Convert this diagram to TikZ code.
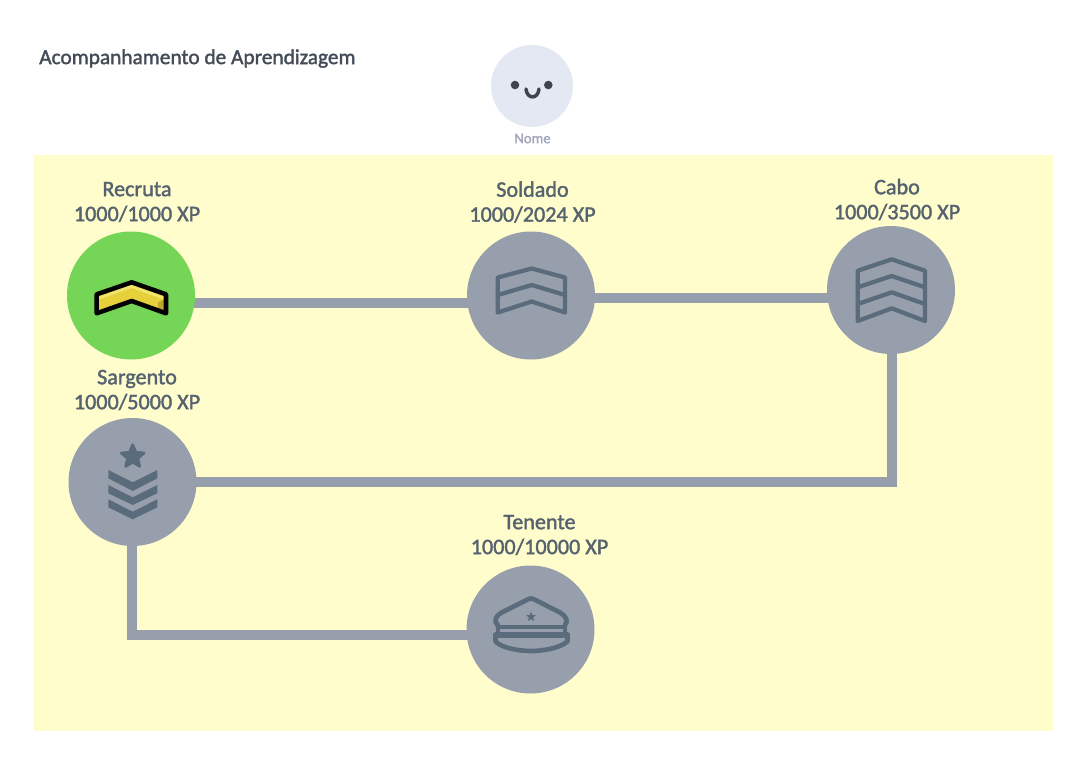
\documentclass[tikz,border=0pt]{standalone}
\usepackage{fontspec}
\setmainfont{Carlito}
\newfontfamily\heavyface[FakeBold=1.6]{Carlito}
\usetikzlibrary{backgrounds,calc}
\definecolor{paper}{HTML}{FFFDCC}
\definecolor{stonegrey}{HTML}{979FAD}
\definecolor{inkgrey}{HTML}{5A6B7C}
\definecolor{labelgrey}{HTML}{55626F}
\definecolor{titlegrey}{HTML}{434B57}
\definecolor{donegreen}{HTML}{75D556}
\definecolor{facebg}{HTML}{E4E8F2}
\definecolor{facename}{HTML}{A0A8BA}
\definecolor{faceink}{HTML}{3E4450}
\definecolor{goldA}{HTML}{E6D03C}
\definecolor{goldB}{HTML}{BFA62E}
\definecolor{goldC}{HTML}{F2E468}
\tikzset{
  x=0.75pt,y=-0.75pt,
  rank/.style={circle,fill=stonegrey,draw=none,minimum size=96pt,inner sep=0pt},
  ranklabel/.style={align=center,text=labelgrey,font=\heavyface\fontsize{16.6pt}{18.7pt}\selectfont,inner sep=0pt},
  link/.style={draw=stonegrey,line width=7.5pt,line join=miter,line cap=butt},
  icon/.style={draw=inkgrey,line width=3.2pt,line join=round,line cap=round},
}
\begin{document}
\begin{tikzpicture}
\useasboundingbox (0,0) rectangle (1079,765);
\begin{pgfonlayer}{background}
\fill[white] (0,0) rectangle (1079,765);
\fill[paper] (34,155) rectangle (1053,731);
\end{pgfonlayer}

% title and face
\node[anchor=west,inner sep=0pt,text=titlegrey,font=\heavyface\fontsize{16pt}{17pt}\selectfont] (title) at (39,58.5) {Acompanhamento de Aprendizagem};
\node[circle,fill=facebg,minimum size=61.5pt,inner sep=0pt] (face) at (532,86) {};
\fill[faceink] (515,85) circle (3.2pt) (548.3,85) circle (3.2pt);
\draw[faceink,line width=2.6pt,line cap=round] (526,89) .. controls (527,99.5) and (538,99.5) .. (539,89);
\node[text=facename,font=\heavyface\fontsize{11pt}{12pt}\selectfont,inner sep=0pt] (facelabel) at (532.5,138.5) {Nome};

% rank circles
\node[rank,fill=donegreen] (recruta) at (131,295.5) {};
\node[rank] (soldado) at (531,295.5) {};
\node[rank] (cabo) at (891,290) {};
\node[rank] (sargento) at (132.5,482) {};
\node[rank] (tenente) at (530.5,629.5) {};

% labels
\node[ranklabel] (l1) at (137,202) {Recruta\\1000/1000 XP};
\node[ranklabel] (l2) at (532.5,202) {Soldado\\1000/2024 XP};
\node[ranklabel] (l3) at (897,199.5) {Cabo\\1000/3500 XP};
\node[ranklabel] (l4) at (137,390) {Sargento\\1000/5000 XP};
\node[ranklabel] (l5) at (539.5,535) {Tenente\\1000/10000 XP};

% connectors
\begin{pgfonlayer}{background}
\draw[link] ($(recruta.center)+(0,7)$) -- ($(soldado.center)+(0,7)$);
\draw[link] ($(soldado.center)+(0,2.5)$) -- ($(cabo.center)+(0,8)$);
\draw[link] ($(cabo.center)+(0.7,0)$) |- (sargento.center);
\draw[link] ($(sargento.center)+(-0.8,0)$) |- ($(tenente.center)+(0,5)$);
\end{pgfonlayer}

% Recruta icon
\begin{scope}[shift={(recruta.center)}]
\fill[goldA] (-34.3,-1.2) -- (0.7,-13.2) -- (35,-1.2) -- (35,17.8) -- (0.7,5.5) -- (-34.3,17.8) -- cycle;
\fill[goldC] (-32,1) -- (0.7,-11) -- (33,1) -- (33,4) -- (0.7,-7.5) -- (-32,4) -- cycle;
\fill[goldB] (27,7) -- (35,3) -- (35,17.8) -- (27,14.5) -- cycle;
\draw[black,line width=3.4pt,line join=round] (-34.3,-1.2) -- (0.7,-13.2) -- (35,-1.2) -- (35,17.8) -- (0.7,5.5) -- (-34.3,17.8) -- cycle;
\end{scope}

% Soldado icon
\begin{scope}[shift={(soldado.center)}]
\draw[icon] (-33.3,17) -- (0.7,6) -- (34,17) -- (34,-18) -- (0.7,-27) -- (-33.3,-18) -- cycle;
\draw[icon] (-33.3,-0.5) -- (0.7,-10.5) -- (34,-0.5);
\end{scope}

% Cabo icon
\begin{scope}[shift={(cabo.center)}]
\draw[icon] (-33.3,31) -- (0.7,18.3) -- (34,31) -- (34,-19.3) -- (0.7,-30.7) -- (-33.3,-19.3) -- cycle;
\draw[icon] (-33.3,-2.7) -- (0.7,-14) -- (34,-2.7);
\draw[icon] (-33.3,14) -- (0.7,2.3) -- (34,14);
\end{scope}

% Sargento icon
\begin{scope}[shift={(sargento.center)}]
\fill[inkgrey] (-24.2,-12) -- (0.2,0.3) -- (24.8,-12) -- (24.8,-3.7) -- (0.2,9) -- (-24.2,-3.7) -- cycle;
\fill[inkgrey] (-24.2,3) -- (0.2,15.3) -- (24.8,3) -- (24.8,11.3) -- (0.2,23) -- (-24.2,11.3) -- cycle;
\fill[inkgrey] (-24.2,17.3) -- (0.2,29.7) -- (24.8,17.3) -- (24.8,25.3) -- (0.2,37.3) -- (-24.2,25.3) -- cycle;
\filldraw[inkgrey,line width=2pt,line join=round,shift={(0.2,-25.3)}]
  (0,-12) -- (3.2,-4.45) -- (11.4,-3.7) -- (5.2,1.7) -- (7.05,9.7) -- (0,5.5) -- (-7.05,9.7) -- (-5.2,1.7) -- (-11.4,-3.7) -- (-3.2,-4.45) -- cycle;
\end{scope}

% Tenente icon
\begin{scope}[shift={(tenente.center)}]
\draw[icon,line width=3.5pt] (-32.8,-4.5) .. controls (-37,-8) and (-35.5,-13) .. (-28.8,-17) -- (-3,-30) .. controls (-1,-31.5) and (2,-31.5) .. (4,-30) -- (29.5,-17) .. controls (36,-13) and (38,-8) .. (34.5,-4.5);
\draw[icon] (-32.8,-4.5) -- (-32.8,5.5) (34.5,-4.5) -- (34.5,5.5);
\draw[icon] (-32.8,-2.8) -- (34.5,-2.8);
\draw[icon,line width=4pt] (-35,5.5) -- (37,5.5);
\draw[icon,line width=3.5pt] (-35,5.5) -- (-35,12) .. controls (-28,19) and (-10,21.5) .. (0.5,21.5) .. controls (11,21.5) and (29,19) .. (37,12) -- (37,5.5);
\fill[inkgrey,shift={(0.5,-12.8)}]
  (0,-5) -- (1.4,-1.6) -- (4.8,-1.6) -- (2.2,0.8) -- (3,4.2) -- (0,2.4) -- (-3,4.2) -- (-2.2,0.8) -- (-4.8,-1.6) -- (-1.4,-1.6) -- cycle;
\end{scope}
\end{tikzpicture}
\end{document}
